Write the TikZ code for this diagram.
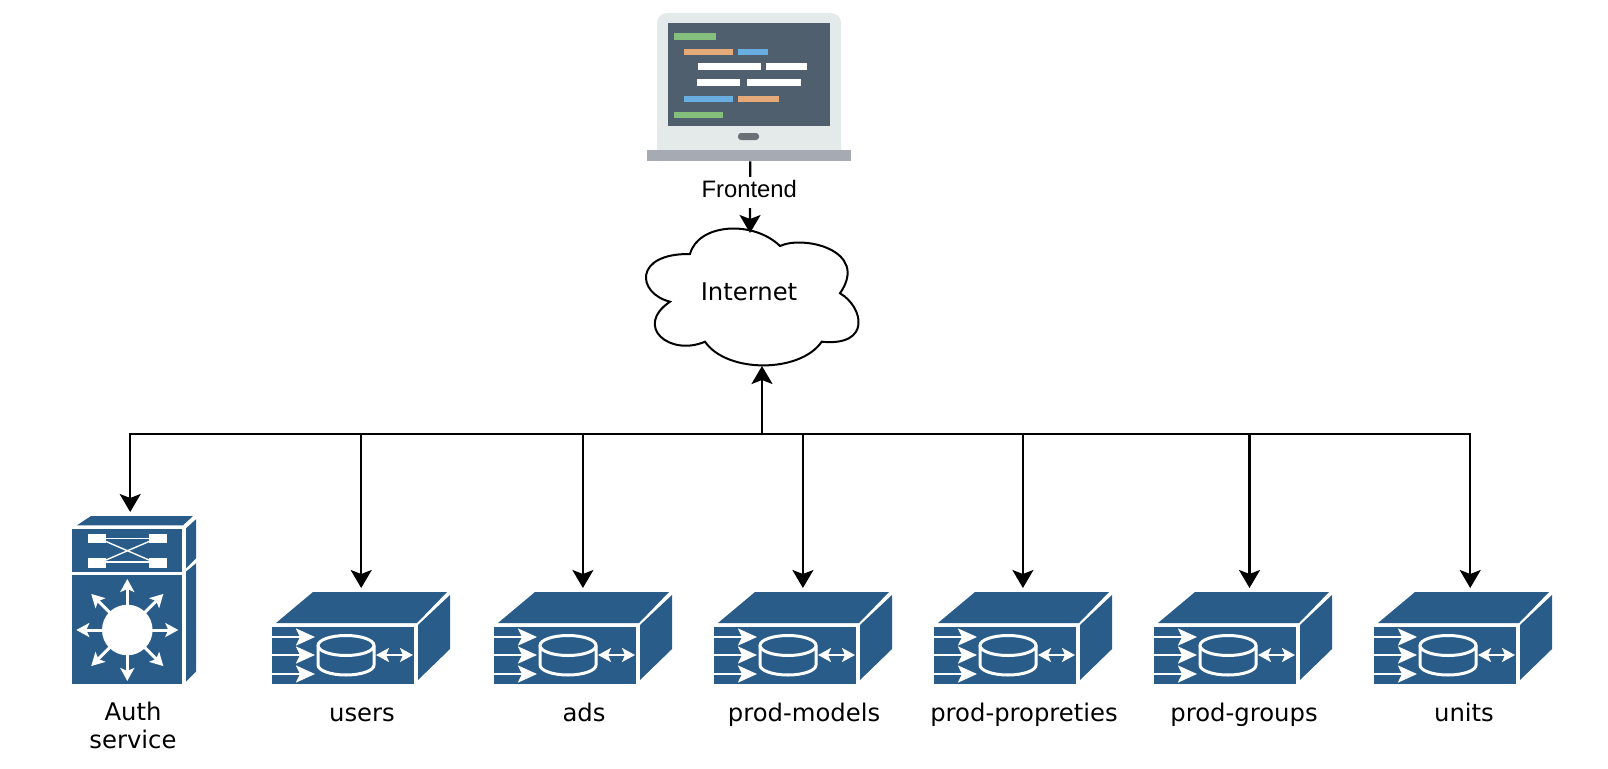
\documentclass[tikz,border=0pt]{standalone}
\usepackage{fontspec}
\setmainfont{Liberation Sans}
\newfontfamily\iconfont{DejaVu Sans}
\usetikzlibrary{positioning,arrows.meta}
\definecolor{ciscoblue}{HTML}{295C88}
\definecolor{lapbody}{HTML}{E4E9E9}
\definecolor{lapbase}{HTML}{A6ABB3}
\definecolor{lapscreen}{HTML}{505F6E}
\definecolor{codegreen}{HTML}{85BF7C}
\definecolor{codeorange}{HTML}{E6A978}
\definecolor{codeblue}{HTML}{68AEE3}
\definecolor{lapbutton}{HTML}{6A7075}

\begin{document}
\begin{tikzpicture}[
  x=1pt, y=-1pt,
  conn/.style={draw=black, line width=2.2pt, -{Stealth[length=18pt,width=21pt,inset=4pt]}},
  lbl/.style={font=\iconfont\fontsize{24.3}{28}\selectfont, inner sep=0pt, anchor=base},
  frontlbl/.style={font=\fontsize{23.8}{28}\selectfont, fill=white, inner sep=0pt, text height=17pt, text depth=8pt, minimum height=31pt},
  iconbox/.style={anchor=north west, inner sep=0pt, minimum height=92pt, minimum width=178pt},
  wline/.style={draw=white, line width=3pt},
  warrow/.style={wline, line width=2.4pt, -{Stealth[length=19pt,width=17pt,inset=4pt]}},
  wsmall/.style={wline, line width=2.4pt, {Stealth[length=13pt,width=14pt,inset=3pt]}-{Stealth[length=13pt,width=14pt,inset=3pt]}},
  wray/.style={wline, -{Stealth[length=13pt,width=14pt,inset=3pt]}},
  dbserver/.pic={
    \fill[ciscoblue] (0,35) rectangle (142,92);
    \fill[ciscoblue] (4,31) -- (41,0) -- (175,0) -- (145,31) -- cycle;
    \fill[ciscoblue] (146,88) -- (178,57) -- (178,3) -- (146,33) -- cycle;
    \draw[warrow] (0,45) -- (43,45);
    \draw[warrow] (0,63) -- (43,63);
    \draw[warrow] (0,82) -- (43,82);
    \draw[wline] (74,53.5) ellipse [x radius=28, y radius=10];
    \draw[wline] (46,53.5) -- (46,73) arc[start angle=180, end angle=0, x radius=28, y radius=10] -- (102,53.5);
    \draw[wsmall] (104,63) -- (141,63);
  },
  authswitch/.pic={
    \fill[ciscoblue] (0,13.3) rectangle (110.3,55.7);
    \fill[ciscoblue] (0,59.3) rectangle (110.3,168);
    \fill[ciscoblue] (5,9.3) -- (19,0) -- (121,0) -- (111,9.3) -- cycle;
    \fill[ciscoblue] (114,12.3) -- (124,3.3) -- (124,42.3) -- (114,52.3) -- cycle;
    \fill[ciscoblue] (114,55.7) -- (124,47.3) -- (124,155.7) -- (114,165.7) -- cycle;
    \fill[white] (16,18) rectangle (34,27.3);
    \fill[white] (16,42.3) rectangle (34,51.7);
    \fill[white] (77,18) rectangle (95,27.3);
    \fill[white] (77,42.3) rectangle (95,51.7);
    \draw[draw=white, line width=1.4pt] (34,22.5) -- (77,22.5);
    \draw[draw=white, line width=1.4pt] (34,46) -- (77,46);
    \draw[draw=white, line width=1.4pt] (34,25.5) -- (77,44);
    \draw[draw=white, line width=1.4pt] (34,44) -- (77,25.5);
    \foreach \ang in {0,45,...,315}
      \draw[wray] (55.3,114) -- ++(\ang:51);
    \fill[white] (55.3,114) circle (25.3);
  },
  laptopicon/.pic={
    \fill[lapbody, rounded corners=10pt] (10,137) -- (10,0) -- (194,0) -- (194,137);
    \fill[lapbase] (0,137) rectangle (204,148);
    \fill[lapscreen] (21,10) rectangle (183,113);
    \fill[codegreen] (27,20) rectangle (69,27);
    \fill[codeorange] (37,36) rectangle (86,42);
    \fill[codeblue] (91,36) rectangle (121,42);
    \fill[white] (51,50) rectangle (114,57);
    \fill[white] (119,50) rectangle (160,57);
    \fill[white] (50,66) rectangle (93,73);
    \fill[white] (100,66) rectangle (154,73);
    \fill[codeblue] (37,83) rectangle (86,89);
    \fill[codeorange] (91,83) rectangle (132,89);
    \fill[codegreen] (27,99) rectangle (76,105);
    \fill[lapbutton, rounded corners=3pt] (91,120) rectangle (112,127);
  }
]
\useasboundingbox (0,0) rectangle (1608,768);

\node[iconbox, minimum width=206pt, minimum height=148pt] (laptop) at (647,13) {};
\pic at (laptop.north west) {laptopicon};

% cloud outline
\draw[line width=2pt, fill=white] (690,254) .. controls (698.3,223.3) and (753.3,220) .. (780,246)
  .. controls (803.3,235) and (870,250) .. (840,293.3)
  .. controls (863.3,306.7) and (872,346.7) .. (821.7,341.7)
  .. controls (800,373.3) and (726.7,373.3) .. (705,341.7)
  .. controls (670,356.7) and (633.3,326.7) .. (670,301.7)
  .. controls (636.7,293.3) and (633.3,253.3) .. (690,254) -- cycle;
\node[lbl] (internet) at (749,300) {Internet};
\coordinate (cloudtop) at (750,233);
\coordinate (cloudbot) at (762,366);
\coordinate (hub) at (762,434);

\node[iconbox, minimum width=124pt, minimum height=168pt] (auth) at (72,516) {};
\node[iconbox] (users) at (272,592) {};
\node[iconbox] (ads) at (494,592) {};
\node[iconbox] (models) at (714,592) {};
\node[iconbox] (proprieties) at (934,592) {};
\node[iconbox] (groups) at (1154,592) {};
\node[iconbox] (units) at (1374,592) {};
\pic at (auth.north west) {authswitch};
\pic at (users.north west) {dbserver};
\pic at (ads.north west) {dbserver};
\pic at (models.north west) {dbserver};
\pic at (proprieties.north west) {dbserver};
\pic at (groups.north west) {dbserver};
\pic at (units.north west) {dbserver};

\draw[conn] (laptop.south) -- (cloudtop);
\node[frontlbl] (frontend) at (749.3,192.5) {Frontend};
\draw[conn] (hub) -- (cloudbot);
\draw[conn, shorten >=4pt] (hub) -| ([xshift=-4pt]auth.north);
\draw[conn, shorten >=4pt] (hub) -| (users.north);
\draw[conn, shorten >=4pt] (hub) -| ([xshift=-0.3pt]ads.north);
\draw[conn, shorten >=4pt] (hub) -| ([xshift=-0.3pt]models.north);
\draw[conn, shorten >=4pt] (hub) -| ([xshift=-0.3pt]proprieties.north);
\draw[conn, shorten >=4pt] (hub) -| ([xshift=6.3pt]groups.north);
\draw[conn, shorten >=4pt] (hub) -| ([xshift=7pt]units.north);

\node[lbl, align=center] (authlbl) at (133,748) {Auth\\service};
\node[lbl] (userslbl) at (362,721) {users};
\node[lbl] (adslbl) at (584,721) {ads};
\node[lbl] (modelslbl) at (804,721) {prod-models};
\node[lbl] (proprietieslbl) at (1024,721) {prod-propreties};
\node[lbl] (groupslbl) at (1244,721) {prod-groups};
\node[lbl] (unitslbl) at (1464,721) {units};

\end{tikzpicture}
\end{document}
